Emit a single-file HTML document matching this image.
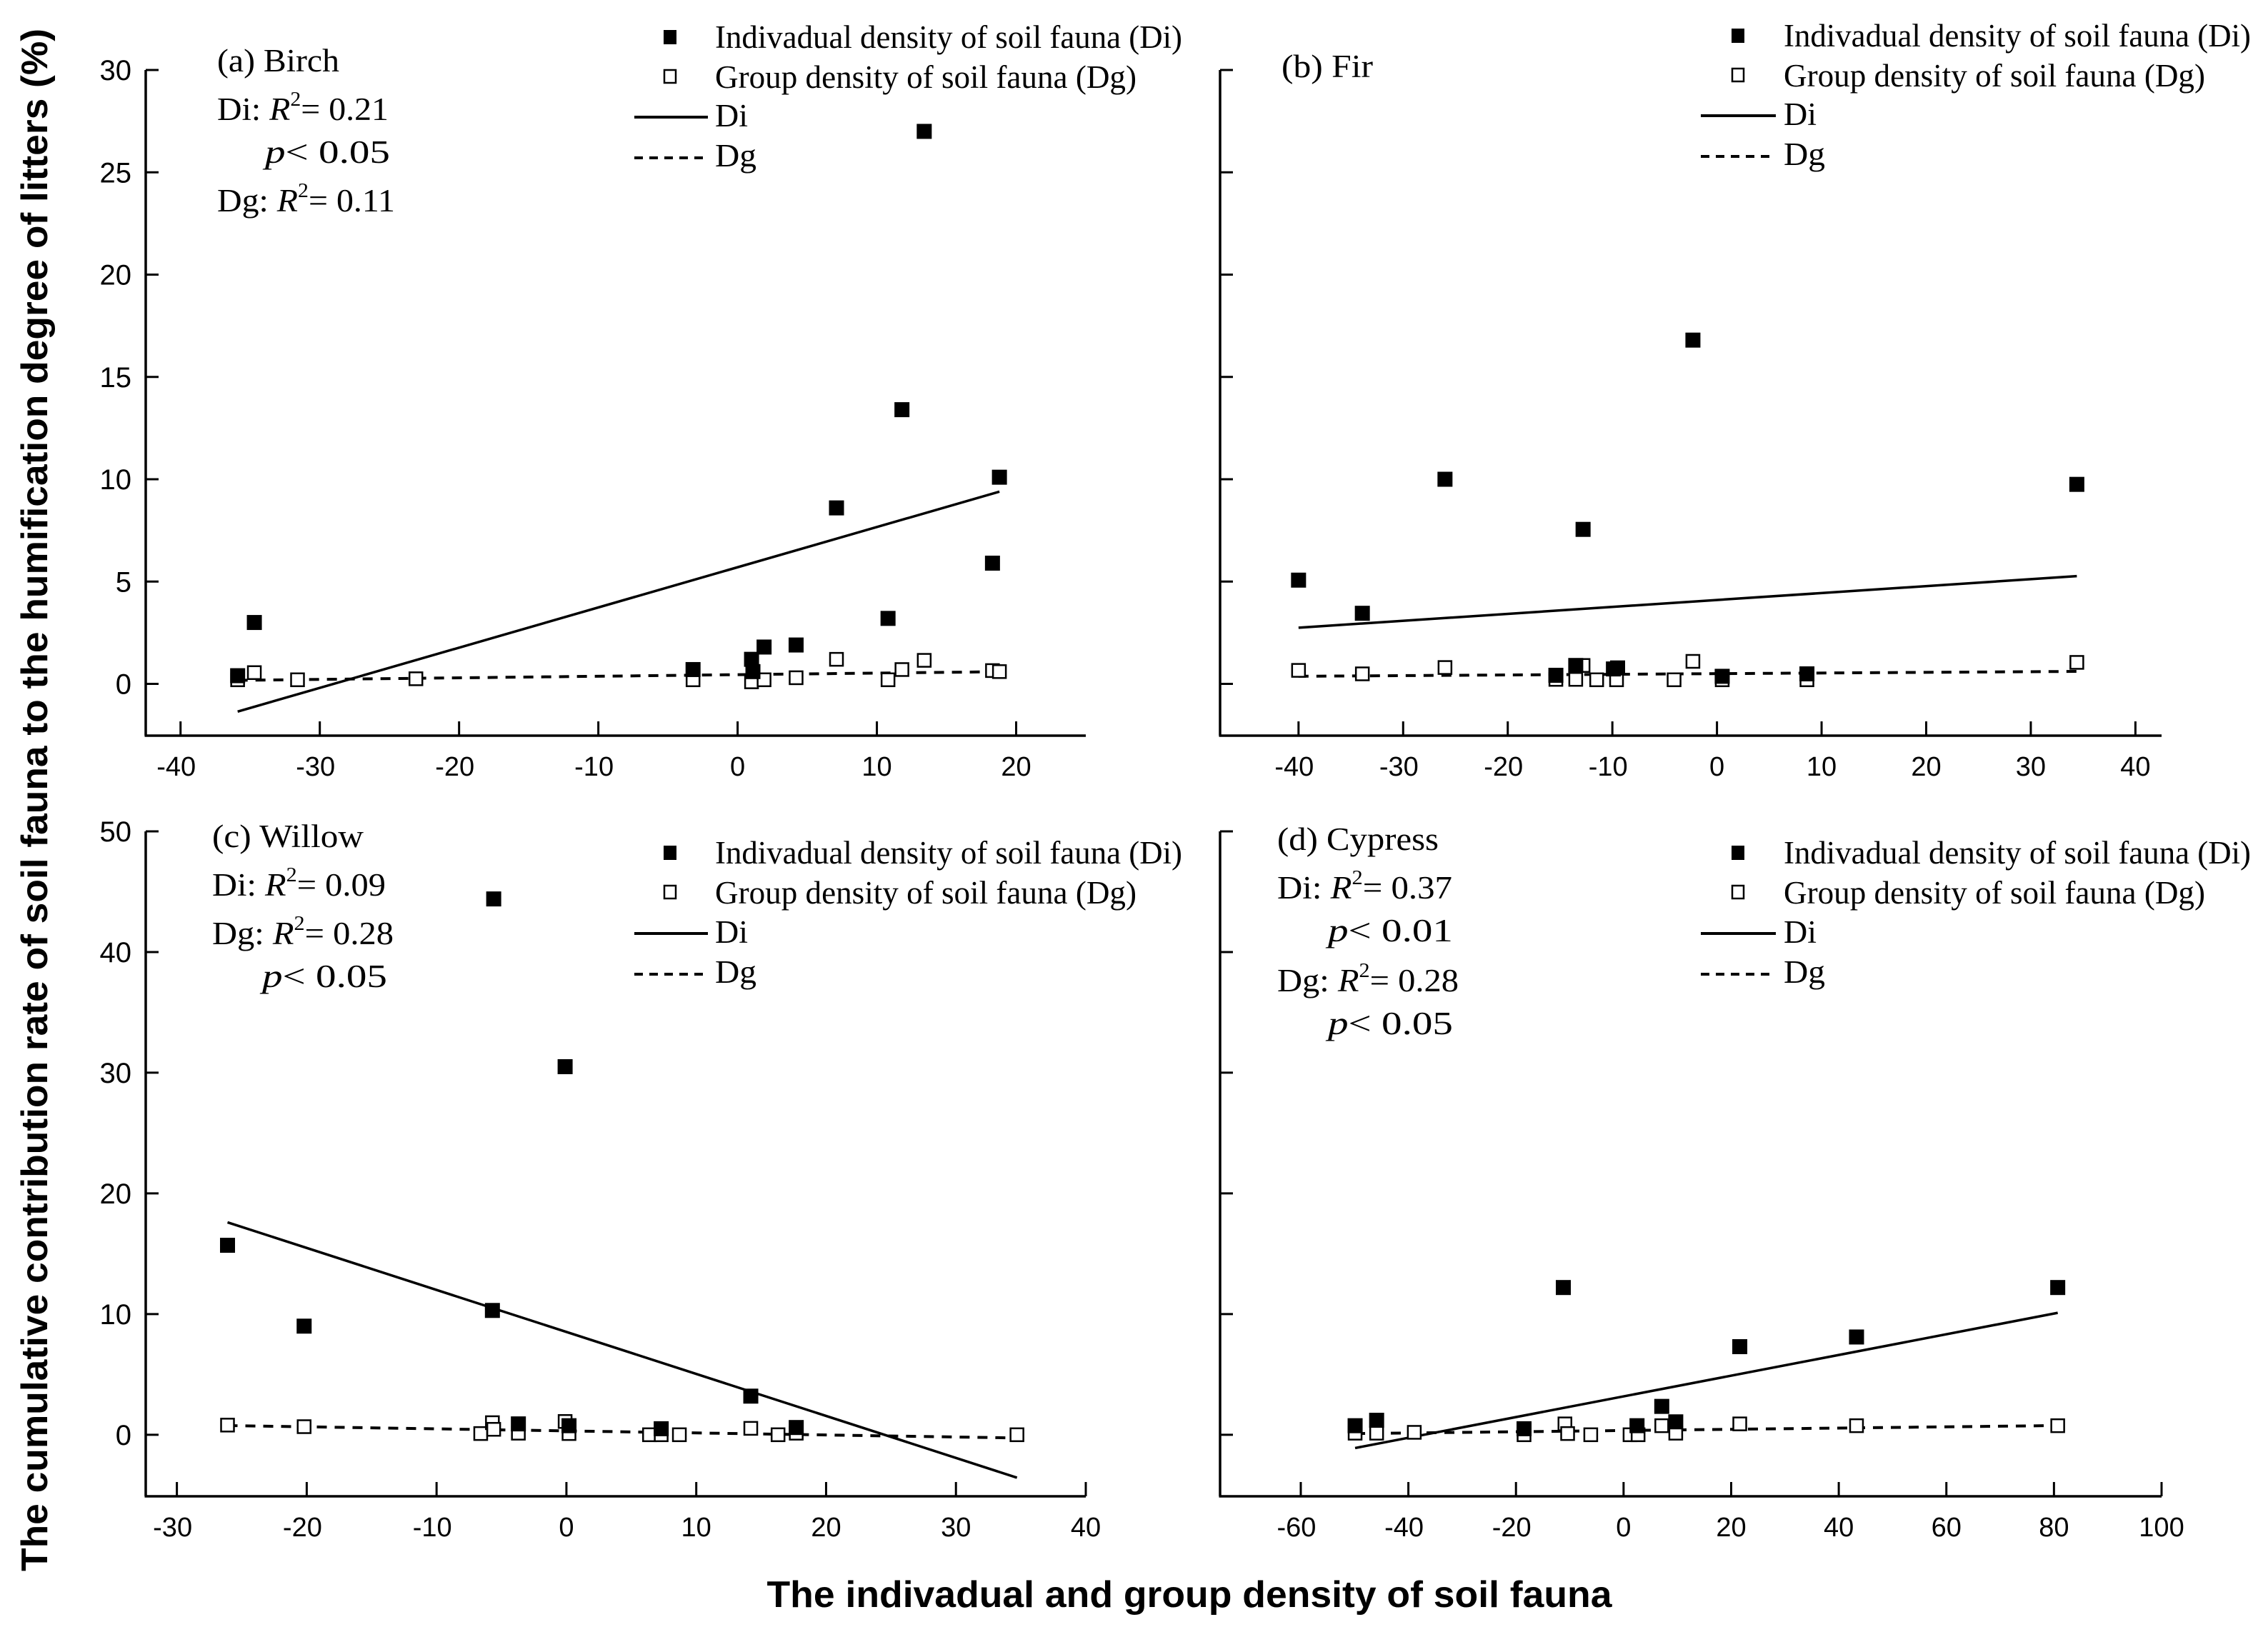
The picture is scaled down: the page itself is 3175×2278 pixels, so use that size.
<!DOCTYPE html>
<html><head><meta charset="utf-8"><style>html,body{margin:0;padding:0;background:#fff}svg{display:block}</style></head>
<body>
<svg id="fig" xmlns="http://www.w3.org/2000/svg" width="3175" height="2278" viewBox="0 0 3175 2278">
<rect width="3175" height="2278" fill="#fff"/>
<text transform="translate(66,1120) rotate(-90)" text-anchor="middle" font-family="Liberation Sans, sans-serif" font-weight="bold" font-size="52" textLength="2160" lengthAdjust="spacingAndGlyphs">The cumulative contribution rate of soil fauna to the humification degree of litters (%)</text>
<text x="1665" y="2250" text-anchor="middle" font-family="Liberation Sans, sans-serif" font-weight="bold" font-size="52" textLength="1183" lengthAdjust="spacingAndGlyphs">The indivadual and group density of soil fauna</text>
</svg>
<script>
// ---- Panel (a) Birch data ----
const aDiX=[-34.7,-35.9,-3.2,1.0,1.1,1.9,4.2,7.1,10.8,11.8,13.4,18.3,18.8];
const aDiY=[3.0,0.4,0.7,1.2,0.6,1.8,1.9,8.6,3.2,13.4,27.0,5.9,10.1];
const aDgX=[-35.9,-34.7,-31.6,-23.1,-3.2,1.0,1.9,4.2,7.1,10.8,11.8,13.4,18.3,18.8];
const aDgY=[0.2,0.55,0.2,0.25,0.2,0.1,0.2,0.3,1.2,0.2,0.7,1.15,0.65,0.6];
const aDiFit=[5.70,0.1965]; // intercept, slope
const aDgFit=[0.45,0.0077];
const aXTicks=[-40,-30,-20,-10,0,10,20];
const aYTicks=[0,5,10,15,20,25,30];
// ---- Panel (b) Fir data ----
const bDiX=[-40,-33.9,-26.0,-15.4,-13.5,-12.8,-9.9,-9.5,-2.3,0.5,8.6,34.4];
const bDiY=[5.07,3.45,10.0,0.42,0.9,7.55,0.73,0.78,16.8,0.37,0.49,9.75];
const bDgX=[-40,-33.9,-26,-15.4,-13.5,-12.8,-11.5,-9.6,-4.1,-2.3,0.5,8.6,34.4];
const bDgY=[0.66,0.49,0.8,0.22,0.22,0.9,0.2,0.2,0.2,1.1,0.2,0.2,1.05];
const bDiFit=[4.10,0.0339];
const bDgFit=[0.50,0.0032];
const bXTicks=[-40,-30,-20,-10,0,10,20,30,40];
const bYTicks=[0,5,10,15,20,25,30];
// ---- Panel (c) Willow data ----
const cDiX=[-26.1,-20.2,-5.6,-5.7,-3.7,-0.1,0.2,7.3,14.2,17.7];
const cDiY=[15.7,9.0,44.4,10.3,0.9,30.5,0.75,0.5,3.2,0.6];
const cDgX=[-26.1,-20.2,-6.6,-5.7,-5.6,-3.7,-0.1,0.2,6.4,7.3,8.7,14.2,16.3,17.7,34.7];
const cDgY=[0.8,0.67,0.1,1.0,0.45,0.13,1.1,0.1,0,0,0,0.53,0,0.13,0];
const cDiFit=[8.52,-0.348];
const cDgFit=[0.32,-0.0169];
const cXTicks=[-30,-20,-10,0,10,20,30,40];
const cYTicks=[0,10,20,30,40,50];
// ---- Panel (d) Cypress data ----
const dDiX=[-49.9,-45.9,-18.5,-11.2,2.5,7.1,9.7,21.6,43.3,80.7];
const dDiY=[0.75,1.2,0.5,12.2,0.75,2.35,1.07,7.3,8.1,12.2];
const dDgX=[-49.9,-45.9,-38.9,-18.5,-10.9,-10.4,-6.1,1.2,2.7,7.1,9.7,21.6,43.3,80.7];
const dDgY=[0.13,0.13,0.2,0,0.9,0.1,0,0,0,0.75,0.13,0.9,0.75,0.75];
const dDiFit=[3.18,0.0858];
const dDgFit=[0.35,0.0051];
const dXTicks=[-60,-40,-20,0,20,40,60,80,100];
const dYTicks=[0,10,20,30,40,50];

const NS='http://www.w3.org/2000/svg';
const svg=document.getElementById('fig');
function mk(tag,attrs,parent){const e=document.createElementNS(NS,tag);for(const k in attrs)e.setAttribute(k,attrs[k]);(parent||svg).appendChild(e);return e;}

const panels=[
 {id:'a',name:'birch',x0:204,x1:1520,xd:[-42.5,25],y0:1030,y1:98,yd:[-2.53,30],lab:true,
  diX:aDiX,diY:aDiY,dgX:aDgX,dgY:aDgY,diF:aDiFit,dgF:aDgFit,xt:aXTicks,yt:aYTicks,
  leg:{sq:938,tx:1001,l0:888,l1:991,ys:[67,123,177,233]},
  ann:[{t:'(a) Birch',x:304,y:100,w:171},{t:'Di: ',r:'0.21',x:304,y:168,w:240},{p:'0.05',x:371,y:228,w:175},{t:'Dg: ',r:'0.11',x:304,y:296,w:249}]},
 {id:'b',name:'fir',x0:1708,x1:3026,xd:[-47.5,42.5],y0:1030,y1:98,yd:[-2.53,30],lab:false,
  diX:bDiX,diY:bDiY,dgX:bDgX,dgY:bDgY,diF:bDiFit,dgF:bDgFit,xt:bXTicks,yt:bYTicks,
  leg:{sq:2433,tx:2497,l0:2381,l1:2486,ys:[65,121,175,231]},
  ann:[{t:'(b) Fir',x:1794,y:108,w:128}]},
 {id:'c',name:'willow',x0:204,x1:1520,xd:[-32.4,40],y0:2095,y1:1164,yd:[-5.1,50],lab:true,
  diX:cDiX,diY:cDiY,dgX:cDgX,dgY:cDgY,diF:cDiFit,dgF:cDgFit,xt:cXTicks,yt:cYTicks,
  leg:{sq:938,tx:1001,l0:888,l1:991,ys:[1209,1265,1320,1376]},
  ann:[{t:'(c) Willow',x:297,y:1186,w:212},{t:'Di: ',r:'0.09',x:297,y:1254,w:243},{t:'Dg: ',r:'0.28',x:297,y:1322,w:254},{p:'0.05',x:367,y:1382,w:175}]},
 {id:'d',name:'cypress',x0:1708,x1:3026,xd:[-75,100],y0:2095,y1:1164,yd:[-5.1,50],lab:false,
  diX:dDiX,diY:dDiY,dgX:dDgX,dgY:dDgY,diF:dDiFit,dgF:dDgFit,xt:dXTicks,yt:dYTicks,
  leg:{sq:2433,tx:2497,l0:2381,l1:2486,ys:[1209,1265,1320,1376]},
  ann:[{t:'(d) Cypress',x:1788,y:1190,w:226},{t:'Di: ',r:'0.37',x:1788,y:1258,w:245},{p:'0.01',x:1859,y:1318,w:175},{t:'Dg: ',r:'0.28',x:1788,y:1388,w:254},{p:'0.05',x:1859,y:1448,w:175}]}
];

const TIMES='Liberation Serif, serif', ARIAL='Liberation Sans, sans-serif';
panels.forEach(P=>{
  const sx=v=>P.x0+(v-P.xd[0])*(P.x1-P.x0)/(P.xd[1]-P.xd[0]);
  const sy=v=>P.y0+(v-P.yd[0])*(P.y1-P.y0)/(P.yd[1]-P.yd[0]);
  const g=mk('g',{});
  
  
  const ya=mk('line',{x1:P.x0,y1:P.y1,x2:P.x0,y2:P.y0,stroke:'#000','stroke-width':3.5},g);
  
  
  const xa=mk('line',{x1:P.x0-1.5,y1:P.y0,x2:P.x1,y2:P.y0,stroke:'#000','stroke-width':3.5},g);
  
  
  P.xt.forEach(v=>{
    const t=mk('line',{x1:sx(v),y1:P.y0,x2:sx(v),y2:P.y0-20,stroke:'#000','stroke-width':3},g);
    
    
    const l=mk('text',{x:sx(v)-(v<0?6:0),y:P.y0+56,'text-anchor':'middle','font-family':ARIAL,'font-size':38},g);
    
    
    l.textContent=String(v);
  });
  P.yt.forEach(v=>{
    const t=mk('line',{x1:P.x0,y1:sy(v),x2:P.x0+18,y2:sy(v),stroke:'#000','stroke-width':3},g);
    
    
    if(P.lab){
      const l=mk('text',{x:P.x0-20,y:sy(v)+14,'text-anchor':'end','font-family':ARIAL,'font-size':40},g);
      
      
      l.textContent=String(v);
    }
  });
  // fit lines span the combined x-range of both series
  const allX=P.diX.concat(P.dgX);
  const xMin=Math.min(...allX), xMax=Math.max(...allX);
  const fl=mk('line',{x1:sx(xMin),y1:sy(P.diF[0]+P.diF[1]*xMin),x2:sx(xMax),y2:sy(P.diF[0]+P.diF[1]*xMax),stroke:'#000','stroke-width':3.5},g);
  
  
  const fd=mk('line',{x1:sx(xMin),y1:sy(P.dgF[0]+P.dgF[1]*xMin),x2:sx(xMax),y2:sy(P.dgF[0]+P.dgF[1]*xMax),stroke:'#000','stroke-width':4,'stroke-dasharray':'14 11'},g);
  
  
  P.dgX.forEach((x,i)=>{
    const r=mk('rect',{x:sx(x)-9,y:sy(P.dgY[i])-9,width:18,height:18,fill:'#fff',stroke:'#000','stroke-width':2.5},g);
    
    
  });
  P.diX.forEach((x,i)=>{
    const r=mk('rect',{x:sx(x)-10.5,y:sy(P.diY[i])-10.5,width:21,height:21,fill:'#000'},g);
    
    
  });
  const L=P.leg;
  const lg=mk('g',{},g);
  
  
  const s1=mk('rect',{x:L.sq-9,y:L.ys[0]-25,width:18,height:20,fill:'#000'},lg);
  
  
  const s2=mk('rect',{x:L.sq-8,y:L.ys[1]-25,width:16,height:18,fill:'#fff',stroke:'#000','stroke-width':2.5},lg);
  
  
  const l1=mk('line',{x1:L.l0,y1:L.ys[2]-13,x2:L.l1,y2:L.ys[2]-13,stroke:'#000','stroke-width':4},lg);
  
  
  const l2=mk('line',{x1:L.l0,y1:L.ys[3]-12,x2:L.l1,y2:L.ys[3]-12,stroke:'#000','stroke-width':4,'stroke-dasharray':'12 9'},lg);
  
  
  const texts=['Indivadual density of soil fauna (Di)','Group density of soil fauna (Dg)','Di','Dg'];
  const widths=[654,590,46,58];
  texts.forEach((s,i)=>{
    const t=mk('text',{x:L.tx,y:L.ys[i],'font-family':TIMES,'font-size':45,textLength:widths[i],lengthAdjust:'spacingAndGlyphs'},lg);
    
    
    t.textContent=s;
  });
  P.ann.forEach(a=>{
    const t=mk('text',{x:a.x,y:a.y,'font-family':TIMES,'font-size':45,textLength:a.w,lengthAdjust:'spacingAndGlyphs'},g);
    
    
    if(a.r){
      t.appendChild(document.createTextNode(a.t));
      const it=mk('tspan',{'font-style':'italic'},t); it.textContent='R';
      const sup=mk('tspan',{'font-size':28,dy:-20},t); sup.textContent='2';
      const rest=mk('tspan',{dy:20},t); rest.textContent='= '+a.r;
    } else if(a.p){
      const it=mk('tspan',{'font-style':'italic'},t); it.textContent='p';
      const rest=mk('tspan',{},t); rest.textContent='< '+a.p;
    } else t.textContent=a.t;
  });
});
</script>
</body></html>
